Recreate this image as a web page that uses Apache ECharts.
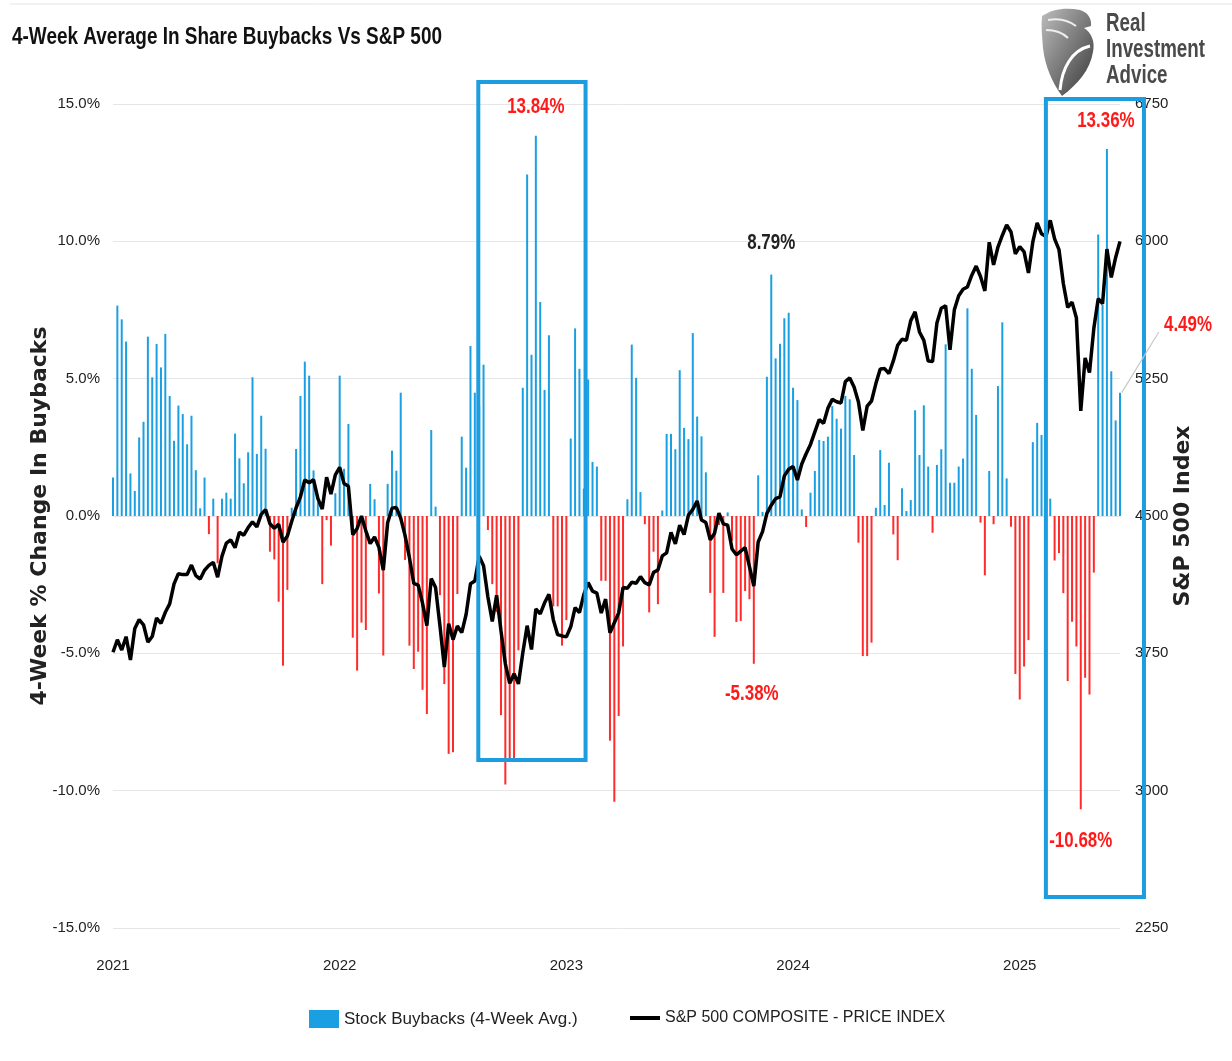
<!DOCTYPE html>
<html>
<head>
<meta charset="utf-8">
<title>4-Week Average In Share Buybacks Vs S&P 500</title>
<script src="https://cdn.jsdelivr.net/npm/echarts@6.0.0/dist/echarts.min.js"></script>
<style>
  html, body { margin: 0; padding: 0; background: #fff; }
  #chart { width: 1232px; height: 1061px; }
</style>
</head>
<body>
<div id="chart"></div>
<script>
// 4-week average % change in buybacks, one value per week (weeks ending Friday)
const buybacks2021 = [1.40, 7.66, 7.16, 6.35, 1.55, 0.91, 2.86, 3.43, 6.53, 5.05, 6.26, 5.41, 6.63, 4.37, 2.74, 4.02,
  3.71, 2.61, 3.65, 1.67, 0.28, 1.40, -0.66, 0.63, -1.72, 0.63, 0.85, 0.63, 3.00, 2.10, 1.19, 2.32, 5.05, 2.26, 3.65,
  2.45, -1.30, -1.58, -3.12, -5.45, -2.69, 0.30, 2.44, 4.37, 5.62, 5.11, 1.66, 0.50, -2.48, -0.15, -1.08, 0.83, 5.11]
const buybacks2022 = [1.72, 3.35, -4.43, -5.63, -3.88, -4.15, 1.17, 0.61, -2.82, -5.08, 1.17, 2.38, 1.65, 4.49, -1.60,
  -4.72, -5.57, -4.94, -6.33, -7.21, 3.13, 0.34, -2.88, -6.12, -8.66, -8.60, -2.84, 2.89, 1.76, 6.19, 4.49, 4.00, 5.51,
  -0.51, -2.48, -3.50, -7.25, -9.78, -8.94, -8.94, -4.89, 4.67, 12.43, 5.87, 13.84, 7.79, 4.59, 6.58, -3.29, -3.29,
  -4.72, -3.79]
const buybacks2023 = [2.82, 6.83, 5.36, 1.00, 4.97, 1.97, 1.80, -2.36, -2.36, -8.18, -10.40, -7.28, -4.75, 0.61, 6.24,
  5.03, 0.87, -0.30, -3.51, -1.30, -3.21, 0.20, 2.99, 2.99, 2.43, 5.31, 3.21, 2.80, 6.66, 3.62, 2.90, 1.59, -2.80,
  -4.40, -0.33, -2.80, 0.13, -0.90, -3.86, -3.82, -2.73, -3.03, -5.38, 1.48, 0.15, 5.07, 8.79, 5.74, 6.27, 7.20, 7.40,
  4.67]
const buybacks2024 = [4.22, 0.24, -0.40, 0.85, 1.64, 2.77, 2.73, 2.89, 4.00, 3.54, 3.18, 4.37, 4.25, 2.22, -0.97,
  -5.10, -5.10, -4.61, 0.30, 2.40, 0.40, 1.94, -0.67, -1.61, 1.01, 0.18, 0.58, 3.85, 2.22, 4.03, 1.80, -0.61, 1.86,
  2.43, 6.25, 1.21, 1.21, 1.80, 2.09, 7.56, 5.36, 3.68, -0.24, -2.16, 1.64, -0.30, 4.73, 7.05, 1.37, -0.39, -5.75,
  -6.68]
const buybacks2025 = [-5.48, -4.52, 2.69, 3.39, 2.95, 0.50, 0.63, -1.62, -1.35, -2.81, -6.01, -3.85, -4.75, -10.68,
  -5.89, -6.50, -2.06, 10.25, 7.70, 13.36, 5.27, 3.48, 4.49]

// S&P 500 weekly close, same weeks
const sp2021 = [3756, 3824, 3768, 3841, 3714, 3886, 3934, 3906, 3811, 3842, 3943, 3913, 3974, 4020, 4129, 4185, 4180,
  4181, 4232, 4174, 4156, 4204, 4230, 4247, 4166, 4281, 4352, 4369, 4327, 4411, 4395, 4437, 4468, 4441, 4509, 4535,
  4458, 4433, 4455, 4357, 4391, 4471, 4545, 4605, 4697, 4682, 4698, 4595, 4538, 4712, 4620, 4725, 4766]
const sp2022 = [4677, 4662, 4398, 4432, 4500, 4419, 4349, 4385, 4329, 4204, 4463, 4543, 4546, 4488, 4393, 4272, 4132,
  4123, 4024, 3901, 4158, 4109, 3901, 3675, 3912, 3825, 3899, 3863, 3962, 4130, 4145, 4280, 4228, 4058, 3924, 4067,
  3873, 3693, 3586, 3639, 3583, 3752, 3901, 3771, 3993, 3965, 4026, 4072, 3934, 3852, 3845, 3840]
const sp2023 = [3895, 3999, 3973, 4071, 4136, 4090, 4079, 3970, 4046, 3862, 3917, 3971, 4109, 4105, 4138, 4133, 4169,
  4136, 4124, 4192, 4205, 4282, 4299, 4410, 4348, 4450, 4399, 4505, 4536, 4582, 4478, 4464, 4370, 4406, 4516, 4457,
  4450, 4320, 4288, 4308, 4327, 4224, 4117, 4358, 4415, 4514, 4559, 4595, 4604, 4719, 4755, 4770]
const sp2024 = [4697, 4784, 4840, 4891, 4959, 5027, 5006, 5089, 5137, 5124, 5117, 5234, 5254, 5204, 5123, 4967, 5100,
  5128, 5223, 5303, 5305, 5278, 5347, 5432, 5465, 5460, 5567, 5615, 5505, 5459, 5346, 5344, 5554, 5635, 5648, 5408,
  5626, 5703, 5738, 5751, 5815, 5865, 5808, 5729, 5995, 5871, 5969, 6032, 6090, 6051, 5931, 5971]
const sp2025 = [5942, 5827, 5997, 6101, 6041, 6026, 6115, 6013, 5955, 5770, 5639, 5668, 5581, 5074, 5363, 5283, 5525,
  5687, 5660, 5958, 5803, 5912, 6000]

// x axis year labels and the week they sit on
const yearTickWeeks = ['2021-01-01', '2021-12-31', '2022-12-30', '2023-12-29', '2024-12-27']
const yearTickLabels = ['2021', '2022', '2023', '2024', '2025']

// highlighted bars: week index, label offset (px)
const callouts = [
  { week: 97, color: '#ff1a1a', offset: [0, -29] },
  { week: 228, color: '#ff1a1a', offset: [-1, -28] },
  { week: 151, color: '#222222', offset: [0, -32] },
  { week: 147, color: '#ff1a1a', offset: [-2, 30] },
  { week: 222, color: '#ff1a1a', offset: [0, 32] },
  { week: 231, color: '#ff1a1a', offset: [68, -68] }
]
// blue frames, in week index / % units
const boxes = [
  { from: 83.8, to: 108.4, top: 15.8, bottom: -8.88 },
  { from: 214.0, to: 236.5, top: 15.18, bottom: -13.87 }
]
// grey pointer to the last bar label
const pointer = { from: [231.4, 4.49], to: [239.9, 6.7] }

const buybacks = [...buybacks2021, ...buybacks2022, ...buybacks2023, ...buybacks2024, ...buybacks2025]
const sp500 = [...sp2021, ...sp2022, ...sp2023, ...sp2024, ...sp2025]
const firstWeek = Date.UTC(2021, 0, 1)
const weeks = buybacks.map((_, i) => new Date(firstWeek + i * 7 * 864e5).toISOString().slice(0, 10))

const BLUE = '#1aa0e2'
const RED = '#ff2b2b'
const SANS = '"Liberation Sans", Arial, sans-serif'
const WIDE = '"DejaVu Sans", Verdana, sans-serif'
const BUY_NAME = 'Stock Buybacks (4-Week Avg.)'
const SP_NAME = 'S&P 500 COMPOSITE - PRICE INDEX'

const chart = echarts.init(document.getElementById('chart'))

chart.setOption({
  animation: false,
  backgroundColor: '#fff',
  legend: [
    {
      data: [{ name: BUY_NAME, itemStyle: { color: BLUE } }],
      left: 309,
      top: 1010,
      padding: 0,
      icon: 'rect',
      itemWidth: 30,
      itemHeight: 18,
      textStyle: { fontFamily: SANS, fontSize: 17, color: '#222' }
    },
    {
      data: [{ name: SP_NAME, itemStyle: { color: '#000' } }],
      left: 630,
      top: 1010,
      padding: 0,
      icon: 'rect',
      itemWidth: 30,
      itemHeight: 4,
      textStyle: { fontFamily: SANS, fontSize: 16, color: '#222' }
    }
  ],
  grid: { left: 113, right: 112, top: 104, bottom: 133 },
  xAxis: {
    type: 'category',
    data: weeks,
    boundaryGap: false,
    axisLine: { show: false },
    axisTick: { show: false },
    splitLine: { show: false },
    axisLabel: {
      interval: (i, v) => yearTickWeeks.includes(v),
      formatter: v => yearTickLabels[yearTickWeeks.indexOf(v)],
      margin: 30,
      fontFamily: SANS,
      fontSize: 15,
      color: '#222'
    }
  },
  yAxis: [
    {
      type: 'value',
      min: -15,
      max: 15,
      interval: 5,
      name: '4-Week % Change In Buybacks',
      nameLocation: 'middle',
      nameRotate: 90,
      nameGap: 62,
      nameMoveOverlap: false,
      nameTextStyle: { fontFamily: WIDE, fontWeight: 'bold', fontSize: 22, color: '#222' },
      axisLine: { show: false },
      axisTick: { show: false },
      axisLabel: {
        formatter: v => v.toFixed(1) + '%',
        margin: 13,
        fontFamily: SANS,
        fontSize: 15,
        color: '#222'
      },
      splitLine: { lineStyle: { color: '#e6e6e6', width: 1 } }
    },
    {
      type: 'value',
      min: 2250,
      max: 6750,
      interval: 750,
      name: 'S&P 500 Index',
      nameLocation: 'middle',
      nameRotate: 90,
      nameGap: 52,
      nameMoveOverlap: false,
      nameTextStyle: { fontFamily: WIDE, fontWeight: 'bold', fontSize: 22, color: '#222' },
      axisLine: { show: false },
      axisTick: { show: false },
      axisLabel: { formatter: v => String(v), margin: 15, fontFamily: SANS, fontSize: 15, color: '#222' },
      splitLine: { show: false }
    }
  ],
  series: [
    {
      name: BUY_NAME,
      type: 'bar',
      data: buybacks,
      barWidth: 2,
      itemStyle: { color: p => (p.value >= 0 ? BLUE : RED) }
    },
    {
      name: SP_NAME,
      type: 'line',
      yAxisIndex: 1,
      data: sp500,
      showSymbol: false,
      z: 5,
      lineStyle: { color: '#000', width: 3.5 },
      itemStyle: { color: '#000' }
    }
  ]
})

// frames, pointer and callouts are placed through the axes
const x0 = chart.convertToPixel({ xAxisIndex: 0 }, weeks[0])
const step = chart.convertToPixel({ xAxisIndex: 0 }, weeks[1]) - x0
const toX = w => x0 + w * step
const toY = v => chart.convertToPixel({ yAxisIndex: 0 }, v)

const logoSvg = "<svg xmlns='http://www.w3.org/2000/svg' width='56' height='92' viewBox='0 0 56 92'>" +
  "<defs><linearGradient id='g' x1='0' y1='0' x2='1' y2='1'><stop offset='0' stop-color='#bdbdbd'/>" +
  "<stop offset='1' stop-color='#383838'/></linearGradient></defs>" +
  "<path d='M2,10 C12,3 26,1 40,4 C47,6 52,12 51,20 L44,22 C52,27 55,36 53,46 C50,64 38,78 22,90 C12,76 5,60 3,42 C2,30 1,20 2,10 Z' fill='url(#g)'/>" +
  "<path d='M20,84 C22,62 32,44 50,40' fill='none' stroke='#fff' stroke-width='3'/>" +
  "<path d='M8,14 C18,12 28,14 36,20 M6,24 C14,24 22,26 28,32' fill='none' stroke='#eee' stroke-width='2'/></svg>"
const logoText = ['Real', 'Investment', 'Advice']

chart.setOption({
  graphic: [
    {
      type: 'line',
      shape: { x1: 10, y1: 4, x2: 1232, y2: 4 },
      style: { stroke: '#e4e4e4', lineWidth: 1 }
    },
    {
      type: 'text',
      x: 12,
      y: 37,
      scaleX: 0.79,
      style: {
        text: '4-Week Average In Share Buybacks Vs S&P 500',
        fill: '#111',
        font: 'bold 24px ' + SANS,
        align: 'left',
        verticalAlign: 'middle'
      }
    },
    ...boxes.map(b => ({
      type: 'rect',
      z: 20,
      shape: { x: toX(b.from), y: toY(b.top), width: toX(b.to) - toX(b.from), height: toY(b.bottom) - toY(b.top) },
      style: { fill: 'none', stroke: '#1b9ddf', lineWidth: 4 }
    })),
    {
      type: 'line',
      z: 20,
      shape: { x1: toX(pointer.from[0]), y1: toY(pointer.from[1]), x2: toX(pointer.to[0]), y2: toY(pointer.to[1]) },
      style: { stroke: '#c8c8c8', lineWidth: 1.2 }
    },
    ...callouts.map(c => ({
      type: 'text',
      z: 30,
      x: toX(c.week) + c.offset[0],
      y: toY(buybacks[c.week]) + c.offset[1],
      scaleX: 0.77,
      style: {
        text: buybacks[c.week].toFixed(2) + '%',
        fill: c.color,
        font: 'bold 22px ' + SANS,
        align: 'center',
        verticalAlign: 'middle'
      }
    })),
    // logo
    {
      type: 'image',
      x: 1040,
      y: 6,
      style: { image: 'data:image/svg+xml;charset=utf-8,' + encodeURIComponent(logoSvg), width: 56, height: 92 }
    },
    ...logoText.map((t, i) => ({
      type: 'text',
      x: 1106,
      y: 24 + i * 26,
      scaleX: 0.75,
      style: { text: t, fill: '#4a4a4a', font: 'bold 25px ' + SANS, align: 'left', verticalAlign: 'middle' }
    }))
  ]
})
</script>
</body>
</html>
